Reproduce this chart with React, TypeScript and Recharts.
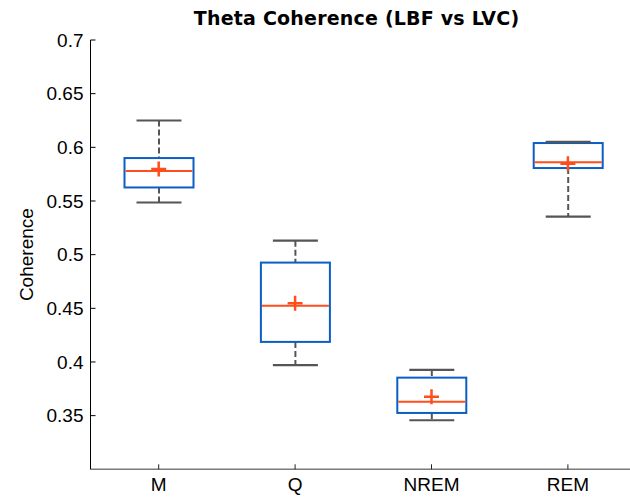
import React from 'react';
import { ComposedChart, Bar, Scatter, XAxis, YAxis, Label } from 'recharts';

const categories = ['M', 'Q', 'NREM', 'REM'];
const positions = [1, 2, 3, 4];
const whiskerLow = [0.5486, 0.397, 0.3457, 0.5355];
const quart1 = [0.5626, 0.4187, 0.3525, 0.5807];
const medians = [0.578, 0.4523, 0.363, 0.5862];
const quart3 = [0.590, 0.4926, 0.3854, 0.604];
const whiskerHigh = [0.625, 0.513, 0.3926, 0.605];
const means = [0.5797, 0.4548, 0.3677, 0.5847];
const yTicks = [0.35, 0.4, 0.45, 0.5, 0.55, 0.6, 0.65, 0.7];

const data = categories.map((name, i) => ({
  name,
  x: positions[i],
  range: [whiskerLow[i], whiskerHigh[i]],
  low: whiskerLow[i],
  q1: quart1[i],
  med: medians[i],
  q3: quart3[i],
  high: whiskerHigh[i],
  mean: means[i],
}));

const BLUE = '#0b5fc4';
const ORANGE = '#ff4d1c';
const GRAY = '#555555';
const FONT = '"Liberation Sans", Arial, sans-serif';

const BoxShape = (props: any) => {
  const { x, y, width, height, payload } = props;
  if (x == null || y == null) return null;
  const { low, high, q1, q3, med } = payload;
  const span = high - low;
  const py = (v: number) => y + ((high - v) / span) * height;
  const cx = x + width / 2;
  const capHalf = 22.5;
  const yHigh = py(high);
  const yLow = py(low);
  const yQ1 = py(q1);
  const yQ3 = py(q3);
  const yMed = py(med);
  return (
    <g>
      <line x1={cx} x2={cx} y1={yHigh} y2={yQ3} stroke={GRAY} strokeWidth={2} strokeDasharray="6 3" />
      <line x1={cx} x2={cx} y1={yQ1} y2={yLow} stroke={GRAY} strokeWidth={2} strokeDasharray="6 3" />
      <rect x={x} y={yQ3} width={width} height={yQ1 - yQ3} fill="none" stroke={BLUE} strokeWidth={2} />
      <line x1={x + 1} x2={x + width - 1} y1={yMed} y2={yMed} stroke={ORANGE} strokeWidth={2} />
      <line x1={cx - capHalf} x2={cx + capHalf} y1={yHigh} y2={yHigh} stroke={GRAY} strokeWidth={2.2} />
      <line x1={cx - capHalf} x2={cx + capHalf} y1={yLow} y2={yLow} stroke={GRAY} strokeWidth={2.2} />
    </g>
  );
};

const PlusShape = (props: any) => {
  const { cx, cy } = props;
  if (cx == null || cy == null) return null;
  const h = 7.5;
  return (
    <g>
      <line x1={cx - h} x2={cx + h} y1={cy} y2={cy} stroke={ORANGE} strokeWidth={2.5} />
      <line x1={cx} x2={cx} y1={cy - h} y2={cy + h} stroke={ORANGE} strokeWidth={2.5} />
    </g>
  );
};

export default function App() {
  return (
    <div style={{ position: 'absolute', left: 0, top: 0, width: 630, height: 499, overflow: 'hidden', background: '#fff' }}>
      <ComposedChart
        width={640}
        height={499}
        data={data}
        margin={{ top: 40, right: 3.9, bottom: 0, left: 0.5 }}
      >
        <XAxis
          dataKey="x"
          type="number"
          domain={[0.5, 4.5]}
          ticks={positions}
          interval={0}
          tickFormatter={(v: number) => categories[Math.round(v) - 1] ?? ''}
          height={29.7}
          tickSize={-5}
          tickMargin={13}
          axisLine={{ stroke: '#7a7a7a', strokeWidth: 1.5 }}
          tickLine={{ stroke: '#222' }}
          tick={{ fill: '#000', fontSize: 19, fontFamily: FONT }}
          allowDataOverflow
        />
        <YAxis
          type="number"
          domain={[0.3, 0.7]}
          ticks={yTicks}
          interval={0}
          width={90}
          tickSize={-5}
          tickMargin={12}
          axisLine={{ stroke: '#000' }}
          tickLine={{ stroke: '#000' }}
          tick={{ fill: '#000', fontSize: 19, fontFamily: FONT }}
          tickFormatter={(v: number) => String(v)}
          allowDataOverflow
        >
          <Label
            value="Coherence"
            angle={-90}
            position="insideLeft"
            offset={25.5}
            style={{ textAnchor: 'middle', fontSize: 19, fontFamily: FONT, fill: '#000' }}
          />
        </YAxis>
        <Bar dataKey="range" barSize={69} shape={<BoxShape />} isAnimationActive={false} />
        <Scatter dataKey="mean" shape={<PlusShape />} isAnimationActive={false} />
      </ComposedChart>
      <svg width={630} height={499} style={{ position: 'absolute', left: 0, top: 0, pointerEvents: 'none' }}>
        <text
          x={356.6}
          y={25}
          textAnchor="middle"
          fontFamily='"DejaVu Sans", sans-serif'
          fontWeight="bold"
          fontSize={19}
          letterSpacing={0.2}
          fill="#000"
        >
          Theta Coherence (LBF vs LVC)
        </text>
      </svg>
    </div>
  );
}
